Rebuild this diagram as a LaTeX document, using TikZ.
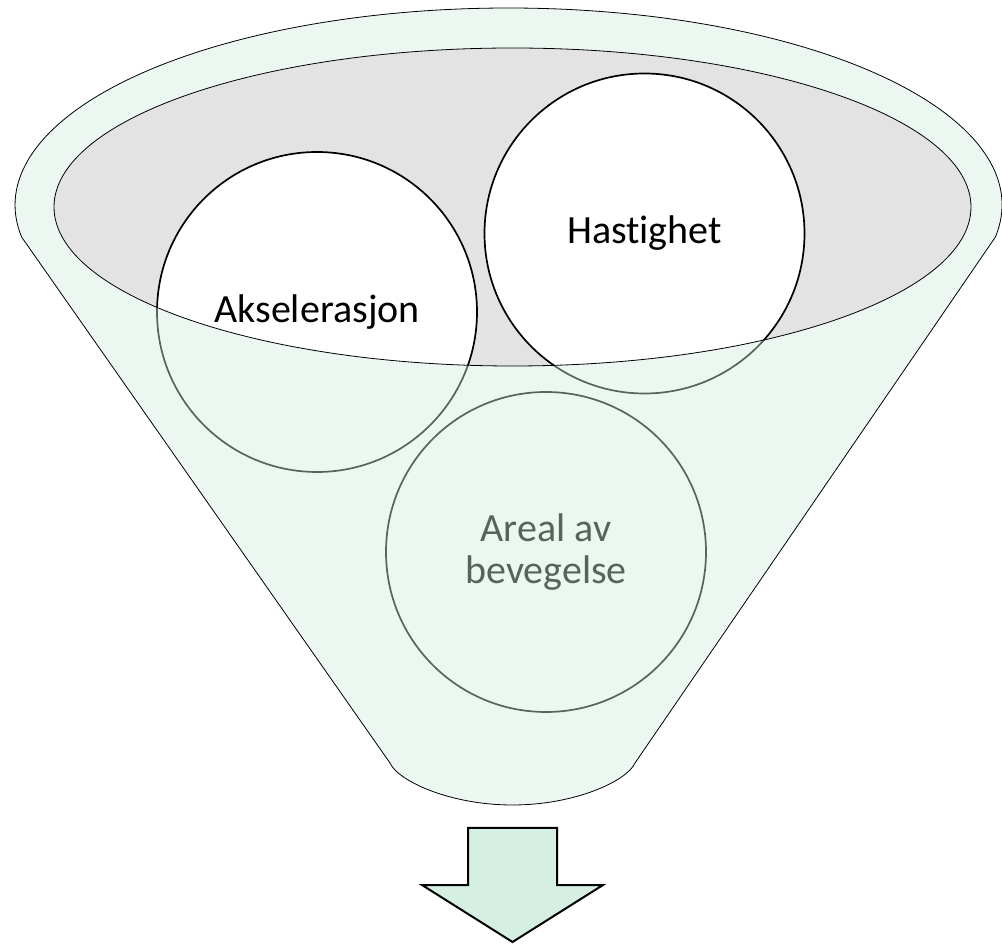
\documentclass[tikz,border=0pt]{standalone}
\usepackage{fontspec}
\setmainfont{Carlito}[Ligatures=NoCommon]
\definecolor{funnelc}{RGB}{212,237,224}
\definecolor{innergray}{RGB}{227,227,227}
\definecolor{arrowc}{RGB}{213,240,227}
\begin{document}
\begin{tikzpicture}[x=1pt,y=1pt,
  bubble/.style={circle, draw=black, line width=1.7pt, fill=white, minimum size=320pt,
    inner sep=0pt, align=center, font=\fontsize{40}{42}\selectfont},
  rim/.style={draw=black, line width=0.8pt}]
\useasboundingbox (0,0) rectangle (1002,946);
% inner (back) opening of the funnel
\fill[innergray] (512.5,739) ellipse [x radius=458.5, y radius=159];
% the three bubbles
\node[bubble] (acc) at (317,634) {Akselerasjon};
\node[bubble] (vel) at (644.5,712.5) {Hastighet};
\node[bubble] (area) at (546,394) {Areal av\\bevegelse};
% translucent front of the funnel
\path[fill=funnelc, fill opacity=0.42, even odd rule]
  (508.5,741) ++(-9.35:493.5 and 197)
    arc[start angle=-9.35, end angle=189.35, x radius=493.5, y radius=197]
    -- (390,183) .. controls (398,165) and (450,141) .. (512.5,141)
    .. controls (575,141) and (627,165) .. (635,183) -- cycle
  (512.5,739) ellipse [x radius=458.5, y radius=159];
% outlines
\draw[rim] (508.5,741) ++(-9.35:493.5 and 197)
    arc[start angle=-9.35, end angle=189.35, x radius=493.5, y radius=197]
    -- (390,183) .. controls (398,165) and (450,141) .. (512.5,141)
    .. controls (575,141) and (627,165) .. (635,183) -- cycle;
\draw[rim] (512.5,739) ellipse [x radius=458.5, y radius=159];
% down arrow
\draw[fill=arrowc, line width=2pt] (468,118) -- (557,118) -- (557,61) -- (603,61)
  -- (512.5,4) -- (422,61) -- (468,61) -- cycle;
\end{tikzpicture}
\end{document}
